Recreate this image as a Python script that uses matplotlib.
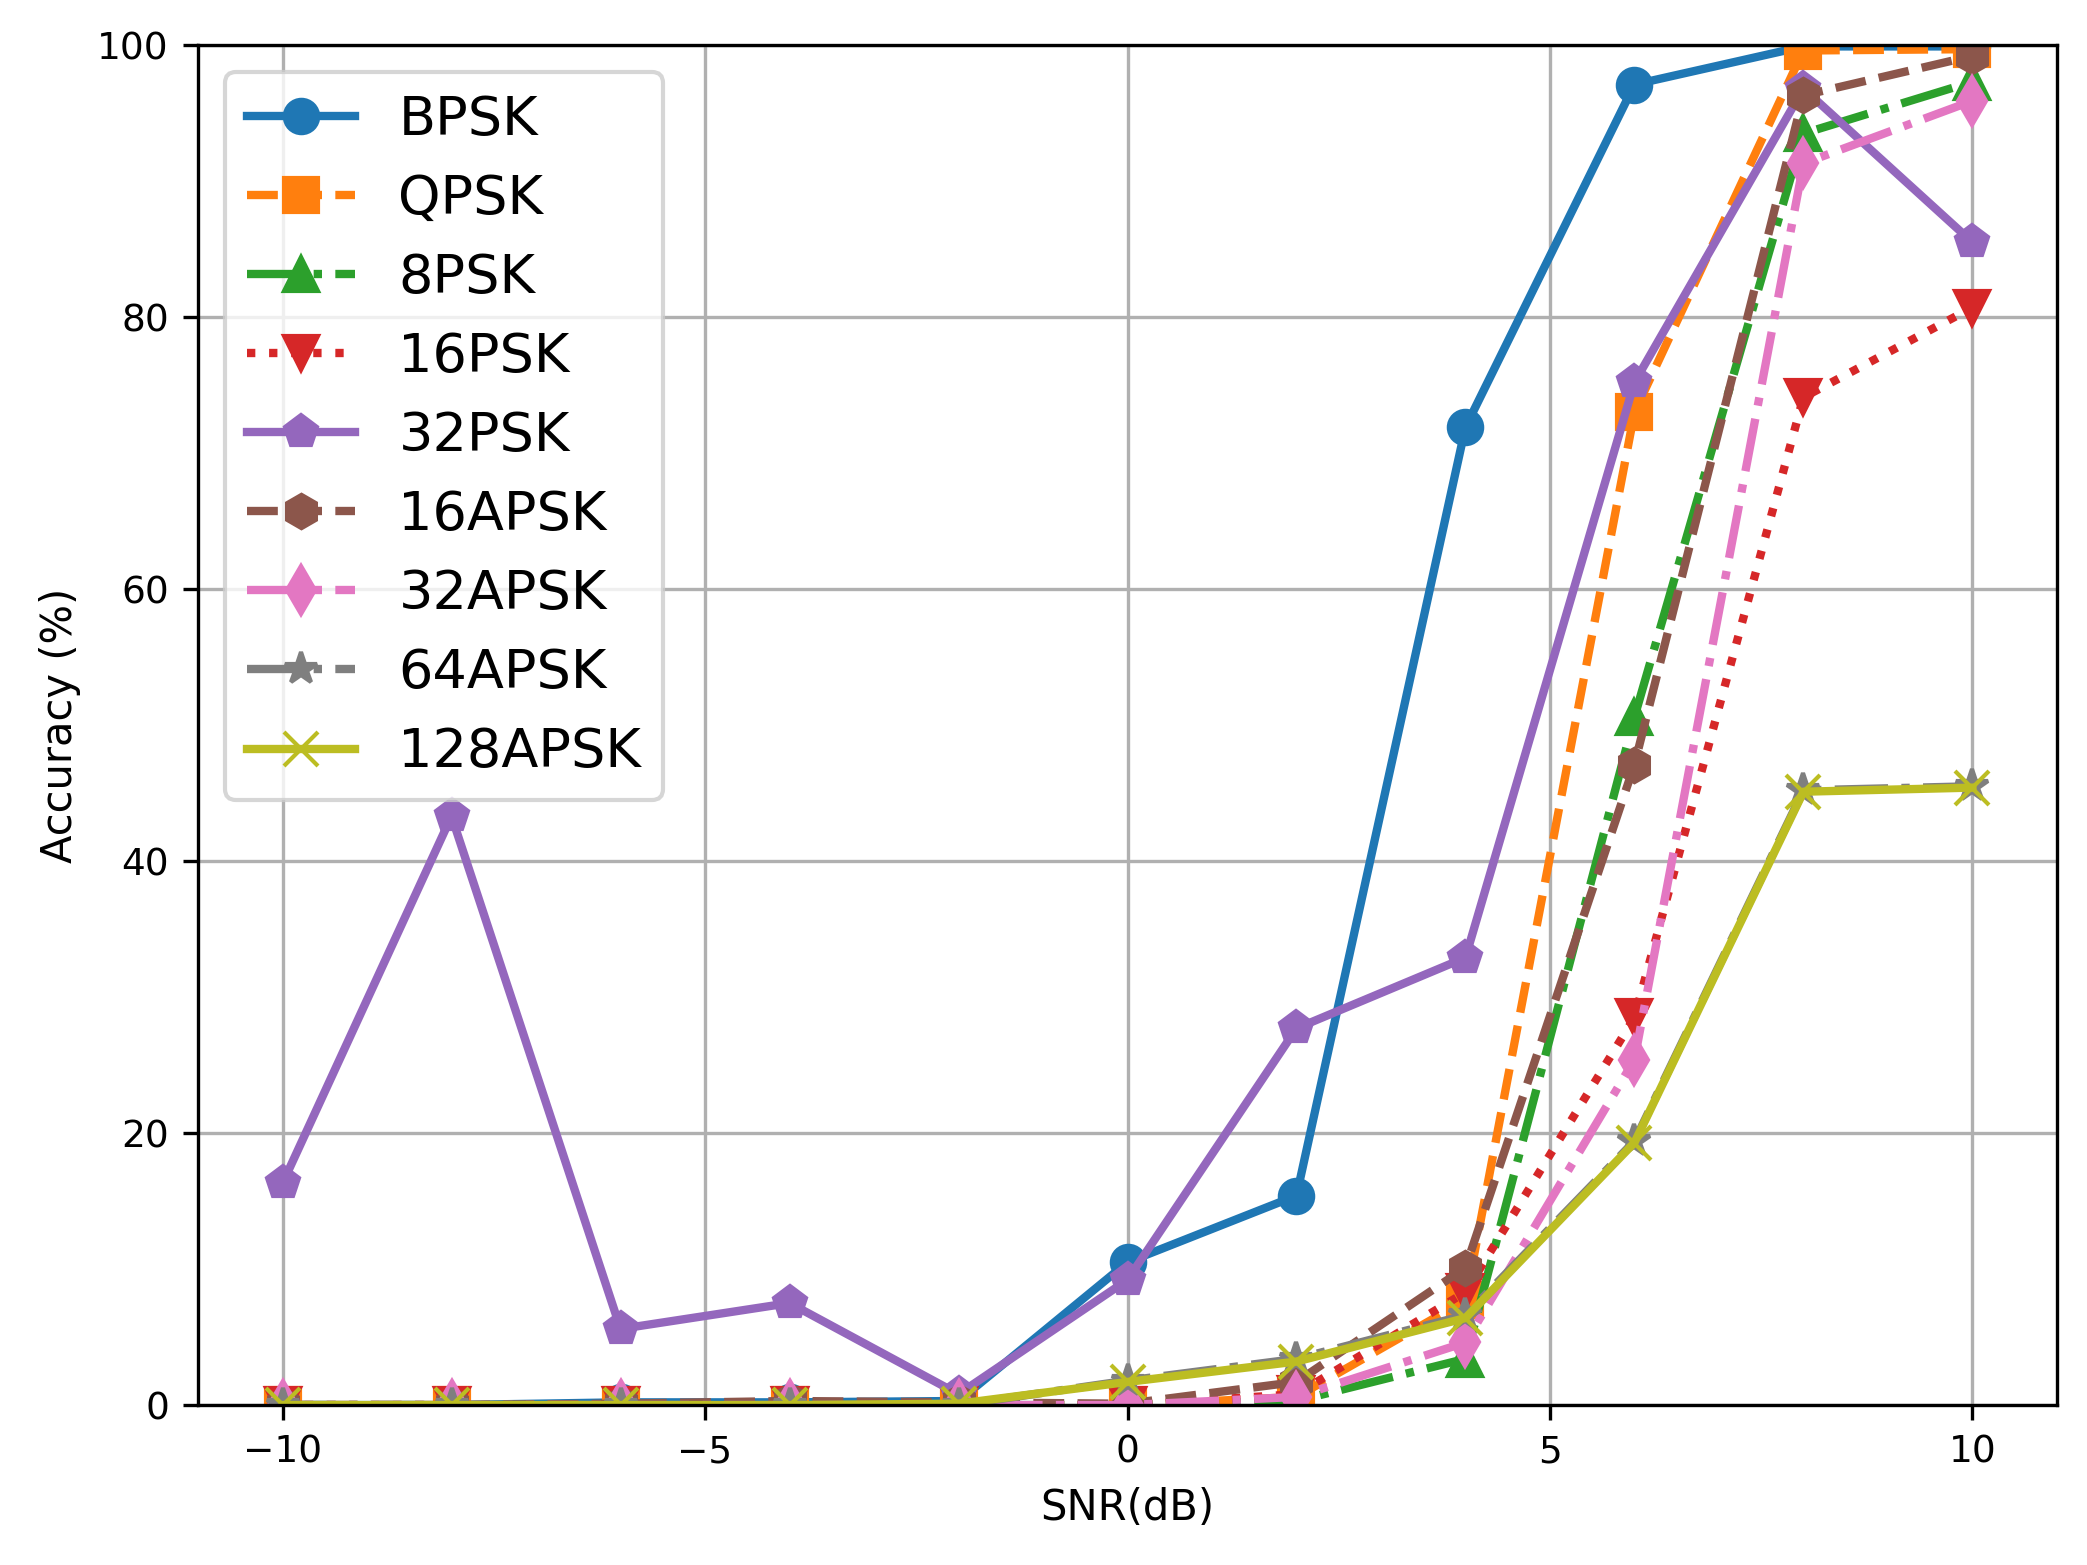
import matplotlib
matplotlib.use("Agg")
import matplotlib.pyplot as plt

# SNR grid and per-modulation accuracy (%)
snr = [-10, -8, -6, -4, -2, 0, 2, 4, 6, 8, 10]

bpsk = [0.0, 0.0, 0.2, 0.2, 0.3, 10.5, 15.4, 71.9, 97.1, 99.9, 99.9]
qpsk = [0.0, 0.0, 0.0, 0.0, 0.0, 0.0, 0.6, 7.7, 73.0, 99.6, 99.7]
psk8 = [0.0, 0.0, 0.0, 0.0, 0.0, 0.0, 0.3, 3.4, 50.6, 93.5, 97.3]
psk16 = [0.0, 0.0, 0.0, 0.0, 0.0, 0.0, 0.8, 8.3, 28.5, 74.1, 80.7]
psk32 = [16.3, 43.3, 5.6, 7.5, 0.8, 9.2, 27.7, 32.9, 75.2, 96.8, 85.5]
apsk16 = [0.0, 0.0, 0.1, 0.3, 0.2, 0.1, 1.7, 10.1, 47.1, 96.3, 99.2]
apsk32 = [0.0, 0.0, 0.0, 0.0, 0.0, 0.0, 0.6, 4.6, 25.4, 91.3, 95.9]
apsk64 = [0.0, 0.0, 0.0, 0.0, 0.0, 1.8, 3.4, 6.6, 19.4, 45.2, 45.5]
apsk128 = [0.0, 0.0, 0.0, 0.0, 0.1, 1.7, 3.2, 6.4, 19.3, 45.1, 45.4]

labels = ["BPSK", "QPSK", "8PSK", "16PSK", "32PSK",
          "16APSK", "32APSK", "64APSK", "128APSK"]
series = [bpsk, qpsk, psk8, psk16, psk32, apsk16, apsk32, apsk64, apsk128]
styles = ["-o", "--s", "-.^", ":v", "-p", "--h", "-.d", "-.*", "-x"]
xticks = [-10, -5, 0, 5, 10]

DPI = 300
fig, ax = plt.subplots(figsize=(2087 / DPI, 1565 / DPI), dpi=DPI)

for y, lab, st in zip(series, labels, styles):
    ax.plot(snr, y, st, label=lab, linewidth=2, markersize=8)

ax.set_ylim(0, 100)
ax.set_xticks(xticks)
ax.tick_params(labelsize=9)
ax.set_xlabel("SNR(dB)", fontsize=10)
ax.set_ylabel("Accuracy (%)", fontsize=10)
ax.grid(True)
ax.legend(loc="upper left", fontsize=13)

fig.subplots_adjust(left=0.0949, right=0.9856, top=0.9712, bottom=0.1022)
fig.savefig("out.png", dpi=DPI)
